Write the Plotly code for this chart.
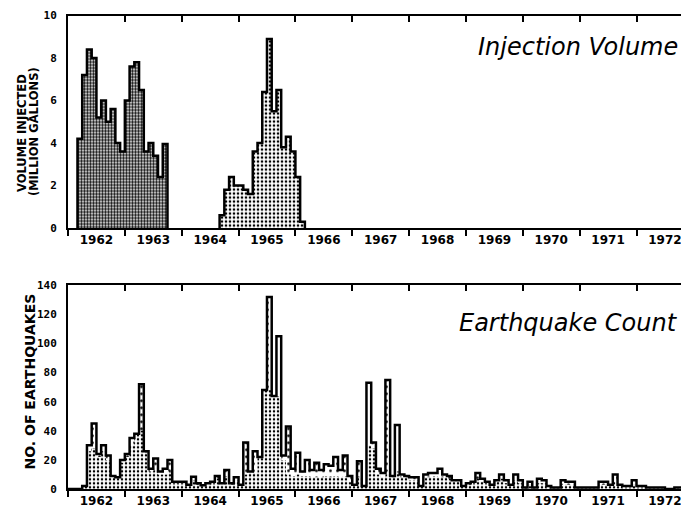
import plotly.graph_objects as go

# ---------------- data ----------------
years = list(range(1962, 1973))
year_labels = [str(y) for y in years]

# Injection volume (million gallons / month)
inj1_start = (1962, 3)   # Mar 1962 .. Sep 1963
inj1 = [4.2, 7.2, 8.4, 8.0, 5.2, 6.0, 5.0, 5.6, 4.0, 3.6,
        6.0, 7.6, 7.8, 6.5, 3.6, 4.0, 3.4, 2.4, 3.95]
inj2_start = (1964, 9)   # Sep 1964 .. Feb 1966
inj2 = [0.6, 1.8, 2.4, 2.0, 2.0, 1.8, 1.6, 3.6, 4.0, 6.4,
        8.9, 5.5, 6.5, 3.8, 4.3, 3.6, 2.4, 0.3]

# Earthquake count per month (outline)
eq_start = (1962, 1)
eq_1962 = [0, 0, 0, 2, 30, 45, 24, 30, 23, 9, 8, 20]
eq_1963 = [24, 35, 38, 72, 26, 14, 21, 12, 14, 20, 5, 5]
eq_1964 = [5, 3, 8.5, 4, 2.5, 4, 5, 9, 4, 13, 4, 8]
eq_1965 = [3, 32, 12, 26, 22, 68, 132, 64, 105, 23, 43, 14]
eq_1966 = [25, 12, 20, 13, 18, 13, 17, 16, 22, 13, 23, 9]
eq_1967 = [3, 19, 2, 73, 32, 14, 11, 75, 9, 44, 10, 9]
eq_1968 = [8, 8, 2, 10, 11, 11, 14, 10, 9, 6, 6, 2]
eq_1969 = [4, 5, 11, 7, 5, 3, 6, 10, 6, 3, 10, 6]
eq_1970 = [1, 5, 1, 7, 6, 2, 1, 1, 6, 5, 5, 1]
eq_1971 = [1, 1, 1, 1, 5, 5, 3, 10, 3, 2, 2, 6]
eq_1972 = [2, 2, 1, 1, 1, 1, 0, 0, 1, 1, 0, 0]

# Inner stippled level
in_1962 = [0, 0, 0, 2, 26, 28, 22, 26, 20, 9, 8, 18]
in_1963 = [22, 30, 38, 40, 26, 12, 14, 10, 10, 12, 4, 4]
in_1964 = [4, 3, 6, 3, 2, 3, 4, 7, 3, 9, 3, 6]
in_1965 = [3, 10, 11, 11, 22, 68, 68, 64, 64, 20, 10, 9]
in_1966 = [10, 9, 9, 8, 8, 8, 9, 8, 9, 8, 9, 5]
in_1967 = [2, 8, 2, 30, 28, 10, 8, 12, 8, 12, 8, 8]
in_1968 = [6, 6, 2, 8, 8, 9, 8, 8, 7, 5, 5, 2]
in_1969 = [3, 4, 7, 5, 4, 2, 5, 7, 4, 2, 6, 4]
in_1970 = [1, 3, 1, 4, 4, 1, 1, 1, 3, 3, 3, 1]
in_1971 = [1, 1, 1, 1, 3, 3, 2, 5, 2, 1, 1, 3]
in_1972 = [1, 1, 1, 1, 1, 1, 0, 0, 1, 1, 0, 0]

eq_count = (eq_1962 + eq_1963 + eq_1964 + eq_1965 + eq_1966 + eq_1967 +
            eq_1968 + eq_1969 + eq_1970 + eq_1971 + eq_1972)
eq_inner = (in_1962 + in_1963 + in_1964 + in_1965 + in_1966 + in_1967 +
            in_1968 + in_1969 + in_1970 + in_1971 + in_1972)


def step_xy(start, vals):
    x0 = start[0] + (start[1] - 1) / 12.0
    bounds = [x0 + i / 12.0 for i in range(len(vals) + 1)]
    xs = [bounds[0]] + bounds
    ys = [0] + list(vals) + [0]
    return xs, ys


XR = [1962.0, 1962.0 + 613.0 / 56.85]
MONO = "DejaVu Sans Mono"
SANS = "DejaVu Sans"
xtickfont = dict(family=SANS, size=12, color="black", weight="bold")
ytickfont = dict(family=MONO, size=11, color="black", weight="bold")


def fill_trace(start, vals, xa, ya, size, solidity):
    xs, ys = step_xy(start, vals)
    return go.Scatter(x=xs, y=ys, mode="lines", line=dict(width=0, shape="hv", color="black"),
                      fill="tozeroy", fillcolor="white",
                      fillpattern=dict(shape=".", fgcolor="black", bgcolor="white",
                                       size=size, solidity=solidity, fillmode="replace"),
                      xaxis=xa, yaxis=ya, hoverinfo="skip", showlegend=False)


def outline_trace(start, vals, xa, ya, w=2.5):
    xs, ys = step_xy(start, vals)
    return go.Scatter(x=xs, y=ys, mode="lines", line=dict(width=w, shape="hv", color="black"),
                      xaxis=xa, yaxis=ya, hoverinfo="skip", showlegend=False)


fig = go.Figure()
# top panel
fig.add_trace(fill_trace(inj1_start, inj1, "x", "y", 3, 0.55))
fig.add_trace(fill_trace(inj2_start, inj2, "x", "y", 4, 0.35))
fig.add_trace(outline_trace(inj1_start, inj1, "x", "y"))
fig.add_trace(outline_trace(inj2_start, inj2, "x", "y"))
# bottom panel
fig.add_trace(fill_trace(eq_start, eq_count, "x2", "y2", 7, 0.12))
fig.add_trace(fill_trace(eq_start, eq_inner, "x2", "y2", 4, 0.3))
fig.add_trace(outline_trace(eq_start, eq_count, "x2", "y2"))
# dummy traces for top tick axes
fig.add_trace(go.Scatter(x=[None], y=[None], xaxis="x3", yaxis="y", showlegend=False, hoverinfo="skip"))
fig.add_trace(go.Scatter(x=[None], y=[None], xaxis="x4", yaxis="y2", showlegend=False, hoverinfo="skip"))

mid_vals = [y + 0.5 for y in years]
bound_vals = years + [1973]

def xax(anchor):
    return dict(anchor=anchor, domain=[0, 1], range=XR, tickvals=mid_vals, ticktext=year_labels,
                ticks="", showline=True, linewidth=2, linecolor="black", showgrid=False,
                zeroline=False, tickfont=xtickfont, ticklabeloverflow="allow",
                minor=dict(tickvals=bound_vals, ticks="outside", ticklen=6, tickwidth=2,
                           tickcolor="black", showgrid=False))

def xtop(overlay, anchor):
    return dict(overlaying=overlay, anchor=anchor, side="top", range=XR, tickvals=bound_vals,
                ticks="inside", ticklen=6, tickwidth=2, tickcolor="black", showticklabels=False,
                showline=True, linewidth=2, linecolor="black", showgrid=False, zeroline=False)

def yax(anchor, domain, rng, dt):
    return dict(anchor=anchor, domain=domain, range=rng, tickvals=list(range(rng[0], rng[1] + 1, dt)),
                ticks="", showline=True, linewidth=2, linecolor="black", showgrid=False,
                zeroline=False, tickfont=ytickfont, ticklabelstandoff=7)

TOP_DOM = [0.5506, 0.9989]
BOT_DOM = [0.0, 0.4297]

fig.update_layout(
    width=681, height=515,
    margin=dict(l=68, r=0, t=15, b=26),
    paper_bgcolor="white", plot_bgcolor="white",
    xaxis=xax("y"),
    xaxis2=xax("y2"),
    xaxis3=xtop("x", "y"),
    xaxis4=xtop("x2", "y2"),
    yaxis=yax("x", TOP_DOM, [0, 10], 2),
    yaxis2=yax("x2", BOT_DOM, [0, 140], 20),
    showlegend=False,
)

fig.add_annotation(text="Injection Volume", xref="paper", yref="paper", x=1, y=TOP_DOM[1],
                   xanchor="right", yanchor="top", xshift=-1, yshift=-15, showarrow=False,
                   font=dict(family=SANS, size=24, color="black", style="italic"))
fig.add_annotation(text="Earthquake Count", xref="paper", yref="paper", x=1, y=BOT_DOM[1],
                   xanchor="right", yanchor="top", xshift=-1, yshift=-22, showarrow=False,
                   font=dict(family=SANS, size=24, color="black", style="italic"))
fig.add_annotation(text="VOLUME INJECTED", xref="paper", yref="paper",
                   x=0, y=0.751, xanchor="center", yanchor="middle",
                   xshift=-46, textangle=-90, showarrow=False,
                   font=dict(family=SANS, size=11.5, color="black", weight="bold"))
fig.add_annotation(text="(MILLION GALLONS)", xref="paper", yref="paper",
                   x=0, y=0.754, xanchor="center", yanchor="middle",
                   xshift=-34.5, textangle=-90, showarrow=False,
                   font=dict(family=SANS, size=11.5, color="black", weight="bold"))
fig.add_annotation(text="NO. OF EARTHQUAKES", xref="paper", yref="paper",
                   x=0, y=0.2257, xanchor="center", yanchor="middle",
                   xshift=-37.5, textangle=-90, showarrow=False,
                   font=dict(family=SANS, size=14, color="black", weight="bold"))

fig.write_html("out.html")
